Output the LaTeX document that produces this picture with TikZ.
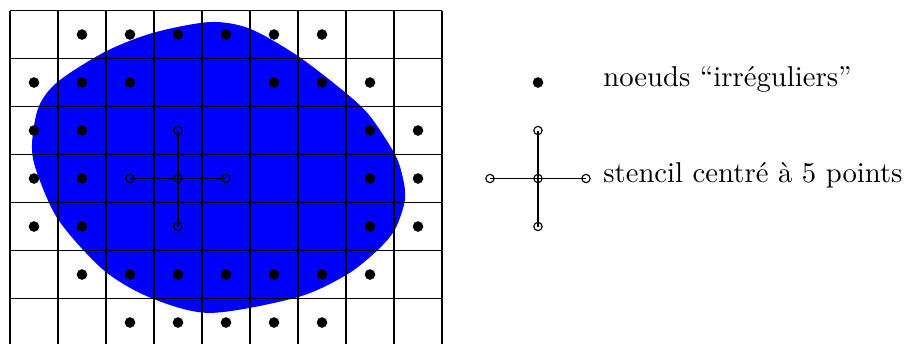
\documentclass[tikz,border=0pt]{standalone}
\usetikzlibrary{positioning}
\definecolor{domainblue}{RGB}{0,0,255}
\tikzset{
  irregpt/.style={circle, fill=black, inner sep=0pt, minimum size=3.7pt},
  stencilpt/.style={circle, draw=black, inner sep=0pt, minimum size=2.9pt},
}

\begin{document}
\begin{tikzpicture}[x=0.588cm, y=0.588cm]
  \useasboundingbox (-0.208,0.073) rectangle (18.667,7.219);
  \clip (-0.208,0.073) rectangle (18.667,7.219);
  % Domain
  \fill[domainblue] plot[smooth cycle] coordinates {
    (4.17,6.76) (5.0,6.62) (6.0,6.05) (7.0,5.28) (7.5,4.8) (8.0,4.04)
    (8.17,3.58) (8.23,3.06) (8.02,2.44) (7.65,2.0) (7.02,1.5) (6.0,1.03)
    (4.17,0.70) (2.92,1.02) (1.94,1.60) (1.0,2.65) (0.54,3.69) (0.46,4.25)
    (0.60,5.0) (1.0,5.52) (2.0,6.15) (3.0,6.54)};
  % Grid
  \foreach \i in {0,...,9}{
    \draw (\i,0) -- (\i,7);
  }
  \foreach \j in {0,...,7}{
    \draw (0,\j) -- (9,\j);
  }
  % Irregular nodes (row counted from the top)
  \foreach \row/\cols in {0/{1,2,3,4,5,6}, 1/{0,1,2,5,6,7}, 2/{0,1,7,8},
                          3/{0,1,7,8}, 4/{0,1,7,8}, 5/{1,2,3,4,5,6,7},
                          6/{2,3,4,5,6}}{
    \foreach \col in \cols{
      \node[irregpt] (irr-\row-\col) at (\col+0.5,6.5-\row) {};
    }
  }
  % Five point stencils: inside the grid and in the legend
  \foreach \cx/\nm in {3.5/grid, 11/leg}{
    \node[stencilpt] (\nm-c) at (\cx,3.5) {};
    \node[stencilpt] (\nm-w) at (\cx-1,3.5) {};
    \node[stencilpt] (\nm-e) at (\cx+1,3.5) {};
    \node[stencilpt] (\nm-n) at (\cx,4.5) {};
    \node[stencilpt] (\nm-s) at (\cx,2.5) {};
    \draw (\nm-w.center) -- (\nm-e.center);
    \draw (\nm-n.center) -- (\nm-s.center);
  }
  % Legend
  \node[irregpt] (leg-dot) at (11,5.5) {};
  \node[right] (leg-dot-txt) at (12.15,5.57) {noeuds “irréguliers”};
  \node[right] (leg-st-txt) at (12.15,3.57) {stencil centré à 5 points};
\end{tikzpicture}
\end{document}
